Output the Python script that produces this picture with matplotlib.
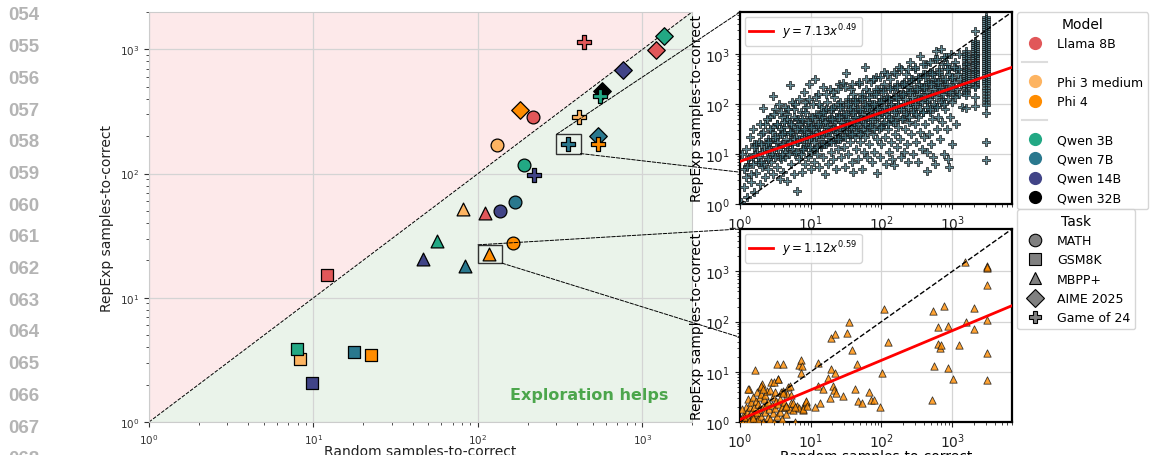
import numpy as np
import matplotlib.pyplot as plt
from matplotlib.lines import Line2D
from matplotlib.patches import Rectangle, ConnectionPatch


# ====================== data ======================
MODELS = ["Llama 8B", "Phi 3 medium", "Phi 4", "Qwen 3B", "Qwen 7B", "Qwen 14B", "Qwen 32B"]
MODEL_COLORS = ["#e15759", "#fdb462", "#ff8c00", "#22a884", "#2a788e", "#414487", "#000000"]
TASKS = ["MATH", "GSM8K", "MBPP+", "AIME 2025", "Game of 24"]
TASK_MARKERS = ["o", "s", "^", "D", "P"]
TASK_SIZES = [85, 85, 85, 80, 100]

nan = np.nan
# samples-to-correct per model, in TASKS order (nan = no point)
random_llama8b = [215, 12, 110, 1200, 440]
repexp_llama8b = [283, 15.3, 48, 985, 1150]
random_phi3m = [131, 8.3, 81, nan, 410]
repexp_phi3m = [170, 3.2, 52, nan, 286]
random_phi4 = [163, 22.5, 117, 180, 535]
repexp_phi4 = [27.5, 3.45, 22.5, 325, 172]
random_qwen3b = [190, 7.9, 56, 1350, 555]
repexp_qwen3b = [117, 3.9, 28.5, 1280, 420]
random_qwen7b = [169, 17.6, 83, 535, 355]
repexp_qwen7b = [59, 3.65, 18, 200, 172]
random_qwen14b = [137, 9.8, 46, 760, 218]
repexp_qwen14b = [50, 2.05, 20.5, 685, 98]
random_qwen32b = [nan, nan, nan, 565, nan]
repexp_qwen32b = [nan, nan, nan, 460, nan]

RANDOM_ALL = [random_llama8b, random_phi3m, random_phi4, random_qwen3b,
              random_qwen7b, random_qwen14b, random_qwen32b]
REPEXP_ALL = [repexp_llama8b, repexp_phi3m, repexp_phi4, repexp_qwen3b,
              repexp_qwen7b, repexp_qwen14b, repexp_qwen32b]

# zoom boxes in the main plot (random range, repexp range)
top_box_random = [300, 420]
top_box_repexp = [145, 207]
bottom_box_random = [100, 140]
bottom_box_repexp = [19, 26.7]

# power-law fits shown in the insets (a, b) for y = a * x^b
top_fit = [7.13, 0.49]
bottom_fit = [1.12, 0.59]

# per-problem points, read as (log10 random, log10 repexp)
# top inset: Qwen 7B on Game of 24
qwen7b_g24_log = [
    (0.02, 0.05), (0.05, 0.35), (0.08, 0.55), (0.10, 0.15), (0.12, 0.80), (0.14, 1.35), (0.15, 0.45),
    (0.18, 0.95), (0.20, 1.20), (0.20, 0.25), (0.22, 0.62), (0.24, 1.05), (0.25, 0.85), (0.27, 1.25),
    (0.28, 0.40), (0.30, 1.40), (0.31, 0.75), (0.33, 1.93), (0.34, 1.10), (0.35, 0.55), (0.36, 1.60),
    (0.38, 0.95), (0.39, 1.30), (0.40, 0.70), (0.42, 1.15), (0.43, 1.75), (0.44, 0.85), (0.45, 1.45),
    (0.46, 0.60), (0.47, 2.17), (0.48, 1.00), (0.50, 1.30), (0.50, 1.90), (0.52, 0.75), (0.53, 1.60),
    (0.54, 1.10), (0.55, 2.00), (0.56, 0.50), (0.57, 1.40), (0.58, 0.90), (0.59, 1.75), (0.60, 1.20),
    (0.61, 0.65), (0.62, 1.55), (0.63, 1.95), (0.64, 0.95), (0.65, 1.30), (0.66, 1.80), (0.67, 0.46),
    (0.68, 1.10), (0.69, 1.65), (0.70, 2.39), (0.71, 1.40), (0.72, 0.80), (0.73, 2.05), (0.74, 1.20),
    (0.75, 1.55), (0.76, 0.60), (0.77, 1.90), (0.78, 1.00), (0.79, 1.35), (0.80, 0.27), (0.80, 1.70),
    (0.82, 1.25), (0.83, 2.10), (0.84, 0.90), (0.85, 1.50), (0.86, 1.85), (0.87, 0.65), (0.88, 1.10),
    (0.89, 1.65), (0.90, 2.25), (0.91, 1.35), (0.92, 0.80), (0.93, 1.95), (0.94, 1.20), (0.95, 1.55),
    (0.96, 0.95), (0.97, 1.75), (0.98, 2.40), (0.99, 1.40), (1.00, 0.70), (1.00, 1.05),
    (1.02, 1.60), (1.03, 2.00), (1.04, 1.25), (1.05, 0.85), (1.06, 2.51), (1.07, 1.45), (1.08, 1.80),
    (1.09, 1.00), (1.10, 2.20), (1.11, 1.55), (1.12, 0.75), (1.13, 1.30), (1.14, 1.95), (1.15, 1.15),
    (1.16, 1.70), (1.17, 2.35), (1.18, 0.95), (1.19, 1.45), (1.20, 1.85), (1.20, 0.60),
    (1.22, 1.20), (1.23, 2.05), (1.24, 1.60), (1.25, 0.80), (1.26, 1.35), (1.27, 2.30), (1.28, 1.75),
    (1.29, 1.05), (1.30, 1.50), (1.31, 1.90), (1.32, 0.90), (1.33, 2.15), (1.34, 1.25), (1.35, 1.65),
    (1.36, 0.70), (1.37, 1.40), (1.38, 2.00), (1.39, 1.10), (1.40, 1.80), (1.40, 2.40),
    (1.42, 1.30), (1.43, 0.95), (1.44, 1.55), (1.45, 2.43), (1.46, 1.95), (1.47, 1.15), (1.48, 1.70),
    (1.49, 0.75), (1.50, 2.63), (1.50, 1.45), (1.52, 2.10), (1.53, 1.00), (1.54, 1.60), (1.55, 1.85),
    (1.56, 1.25), (1.57, 2.30), (1.58, 0.85), (1.59, 1.50), (1.60, 0.64), (1.60, 1.95), (1.60, 2.20),
    (1.62, 1.35), (1.63, 1.75), (1.64, 1.10), (1.65, 2.05), (1.66, 1.55), (1.67, 0.90), (1.68, 2.40),
    (1.69, 1.25), (1.70, 1.85), (1.71, 1.45), (1.72, 2.15), (1.73, 0.70), (1.74, 1.65), (1.75, 1.05),
    (1.76, 2.74), (1.76, 1.95), (1.77, 1.35), (1.78, 2.30), (1.79, 0.95), (1.80, 1.75), (1.80, 1.55),
    (1.82, 2.05), (1.83, 1.20), (1.84, 1.60), (1.85, 2.45), (1.86, 0.85), (1.87, 1.90), (1.88, 1.40),
    (1.89, 2.20), (1.90, 1.05), (1.91, 1.70), (1.92, 2.55), (1.93, 1.30), (1.94, 0.62), (1.95, 1.95),
    (1.96, 1.50), (1.97, 2.30), (1.98, 0.95), (1.99, 1.80), (2.00, 1.20), (2.00, 2.10),
    (2.02, 1.60), (2.03, 2.40), (2.04, 2.64), (2.05, 1.35), (2.06, 1.90), (2.07, 0.80), (2.08, 2.15),
    (2.09, 1.50), (2.10, 1.05), (2.11, 1.75), (2.12, 2.50), (2.13, 1.25), (2.14, 2.00), (2.15, 0.90),
    (2.16, 1.65), (2.17, 2.30), (2.18, 0.79), (2.19, 1.40), (2.20, 1.85), (2.20, 2.60),
    (2.22, 1.15), (2.23, 2.10), (2.24, 1.55), (2.25, 2.75), (2.26, 1.30), (2.27, 1.95), (2.28, 0.95),
    (2.29, 2.40), (2.30, 1.70), (2.31, 2.20), (2.32, 1.05), (2.33, 1.50), (2.34, 2.60), (2.35, 1.85),
    (2.36, 1.20), (2.37, 2.35), (2.38, 0.85), (2.39, 1.65), (2.40, 2.05), (2.40, 2.84),
    (2.42, 1.40), (2.43, 2.50), (2.44, 1.90), (2.45, 1.00), (2.46, 2.25), (2.47, 1.60), (2.48, 2.70),
    (2.49, 1.25), (2.50, 2.00), (2.51, 0.85), (2.52, 1.75), (2.53, 2.40), (2.54, 2.97), (2.55, 1.45),
    (2.56, 2.15), (2.57, 1.10), (2.58, 2.60), (2.59, 1.85), (2.60, 1.35), (2.60, 2.30),
    (2.62, 1.60), (2.63, 2.80), (2.64, 1.05), (2.65, 2.05), (2.65, 0.66), (2.66, 2.45), (2.67, 1.40),
    (2.68, 1.85), (2.69, 2.65), (2.70, 1.20), (2.71, 2.20), (2.72, 1.70), (2.73, 0.95), (2.74, 2.50),
    (2.75, 0.80), (2.75, 1.95), (2.76, 2.90), (2.77, 3.07), (2.78, 1.50), (2.79, 2.35), (2.80, 1.75),
    (2.82, 2.60), (2.83, 1.30), (2.84, 3.11), (2.85, 2.10), (2.86, 1.65), (2.87, 2.80), (2.88, 1.00),
    (2.89, 2.40), (2.90, 1.90), (2.91, 2.95), (2.92, 1.50), (2.93, 2.25), (2.94, 0.90), (2.95, 2.70),
    (2.96, 0.75), (2.97, 1.75), (2.98, 3.00), (2.99, 2.50), (3.00, 1.20),
    (3.02, 2.20), (3.04, 2.85), (3.06, 1.60), (3.08, 2.60), (3.10, 3.00), (3.12, 2.40), (3.14, 1.95),
    # dense core around the fit
    (0.05, 0.70), (0.03, 1.00), (0.15, 0.60), (0.13, 0.95), (0.26, 0.95), (0.23, 1.20), (0.34, 0.80),
    (0.37, 1.20), (0.33, 1.45), (0.45, 1.00), (0.43, 1.25), (0.47, 1.55), (0.56, 0.95), (0.53, 1.25),
    (0.58, 1.50), (0.64, 1.05), (0.67, 1.20), (0.62, 1.45), (0.66, 1.70), (0.74, 1.10), (0.77, 1.30),
    (0.72, 1.45), (0.76, 1.75), (0.86, 1.00), (0.83, 1.30), (0.87, 1.45), (0.84, 1.60), (0.94, 1.15),
    (0.97, 1.30), (0.93, 1.45), (0.96, 1.65), (0.92, 1.85), (1.04, 1.10), (1.07, 1.35), (1.03, 1.50),
    (1.06, 1.70), (1.14, 1.20), (1.17, 1.40), (1.13, 1.60), (1.16, 1.75), (1.12, 2.00), (1.24, 1.25),
    (1.27, 1.45), (1.23, 1.55), (1.26, 1.70), (1.22, 1.90), (1.34, 1.30), (1.37, 1.45), (1.33, 1.55),
    (1.36, 1.75), (1.32, 1.95), (1.44, 1.35), (1.47, 1.50), (1.43, 1.65), (1.46, 1.80), (1.42, 2.05),
    (1.54, 1.40), (1.57, 1.55), (1.53, 1.70), (1.56, 1.90), (1.52, 2.05), (1.64, 1.45), (1.67, 1.60),
    (1.63, 1.75), (1.66, 1.90), (1.62, 2.10), (1.74, 1.50), (1.77, 1.60), (1.73, 1.80), (1.76, 2.00),
    (1.72, 2.20), (1.84, 1.55), (1.87, 1.70), (1.83, 1.85), (1.86, 2.00), (1.82, 2.25), (1.94, 1.60),
    (1.97, 1.75), (1.93, 1.90), (1.96, 2.05), (1.92, 2.30), (2.04, 1.65), (2.07, 1.80), (2.03, 1.95),
    (2.06, 2.10), (2.02, 2.30), (2.14, 1.70), (2.17, 1.85), (2.13, 2.00), (2.16, 2.15), (2.12, 2.35),
    (2.24, 1.75), (2.27, 1.90), (2.23, 2.00), (2.26, 2.20), (2.22, 2.40), (2.34, 1.80), (2.37, 1.95),
    (2.33, 2.10), (2.36, 2.25), (2.32, 2.45), (2.44, 1.85), (2.47, 2.00), (2.43, 2.15), (2.46, 2.30),
    (2.42, 2.50), (2.54, 1.90), (2.57, 2.05), (2.53, 2.20), (2.56, 2.35), (2.52, 2.55), (2.64, 1.95),
    (2.67, 2.10), (2.63, 2.25), (2.66, 2.40), (2.62, 2.60), (2.74, 2.00), (2.77, 2.15), (2.73, 2.30),
    (2.76, 2.45), (2.72, 2.65), (2.84, 2.05), (2.87, 2.20), (2.83, 2.35), (2.86, 2.50), (2.82, 2.70),
    (2.94, 2.10), (2.97, 2.25), (2.93, 2.40), (2.96, 2.60), (2.92, 2.80), (3.04, 2.15), (3.07, 2.30),
    (3.03, 2.45), (3.06, 2.70),
    (0.10, 0.75), (0.11, 0.90), (0.09, 1.10), (0.19, 0.80), (0.21, 1.00), (0.20, 1.15), (0.18, 1.50),
    (0.29, 0.85), (0.31, 1.05), (0.30, 1.20), (0.28, 1.60), (0.39, 0.90), (0.41, 1.10), (0.40, 1.25),
    (0.38, 1.70), (0.42, 1.50), (0.49, 0.95), (0.51, 1.15), (0.50, 1.35), (0.52, 1.60), (0.48, 1.80),
    (0.59, 1.00), (0.61, 1.20), (0.60, 1.40), (0.62, 1.65), (0.58, 1.85), (0.69, 1.00), (0.71, 1.25),
    (0.70, 1.45), (0.72, 1.60), (0.68, 1.90), (0.79, 1.05), (0.81, 1.25), (0.80, 1.50), (0.82, 1.70),
    (0.78, 2.00), (0.89, 1.10), (0.91, 1.30), (0.90, 1.50), (0.88, 1.70), (0.92, 2.05), (0.99, 1.15),
    (1.01, 1.35), (1.00, 1.55), (1.02, 1.75), (0.98, 2.10), (1.09, 1.15), (1.11, 1.40), (1.10, 1.60),
    (1.12, 1.80), (1.08, 2.15), (1.19, 1.20), (1.21, 1.45), (1.20, 1.65), (1.18, 1.85), (1.22, 2.20),
    (1.29, 1.25), (1.31, 1.50), (1.30, 1.70), (1.28, 1.90), (1.32, 2.25), (1.39, 1.30), (1.41, 1.55),
    (1.40, 1.75), (1.42, 1.95), (1.38, 2.30), (1.49, 1.35), (1.51, 1.60), (1.50, 1.80), (1.52, 2.00),
    (1.48, 2.35), (1.59, 1.40), (1.61, 1.65), (1.60, 1.85), (1.62, 2.05), (1.58, 2.40), (1.69, 1.40),
    (1.71, 1.70), (1.70, 1.90), (1.72, 2.10), (1.68, 2.45), (1.79, 1.45), (1.81, 1.75), (1.80, 1.95),
    (1.82, 2.15), (1.78, 2.50), (1.89, 1.50), (1.91, 1.80), (1.90, 2.00), (1.92, 2.20), (1.88, 2.50),
    (1.99, 1.55), (2.01, 1.85), (2.00, 2.05), (2.02, 2.25), (1.98, 2.55), (2.09, 1.60), (2.11, 1.90),
    (2.10, 2.10), (2.12, 2.30), (2.08, 2.60), (2.19, 1.65), (2.21, 1.95), (2.20, 2.15), (2.22, 2.35),
    (2.18, 2.65), (2.29, 1.70), (2.31, 2.00), (2.30, 2.20), (2.32, 2.40), (2.28, 2.70), (2.39, 1.75),
    (2.41, 2.05), (2.40, 2.25), (2.42, 2.45), (2.38, 2.70), (2.49, 1.80), (2.51, 2.10), (2.50, 2.30),
    (2.52, 2.50), (2.48, 2.75), (2.59, 1.85), (2.61, 2.15), (2.60, 2.35), (2.62, 2.55), (2.58, 2.80),
    (2.69, 1.90), (2.71, 2.20), (2.70, 2.40), (2.72, 2.60), (2.68, 2.85), (2.79, 1.95), (2.81, 2.25),
    (2.80, 2.45), (2.82, 2.65), (2.78, 2.90), (2.89, 2.00), (2.91, 2.30), (2.90, 2.50), (2.92, 2.70),
    (2.88, 2.95), (2.99, 2.05), (3.01, 2.35), (3.00, 2.55), (3.02, 2.75), (3.09, 2.20), (3.11, 2.50),
    (3.10, 2.70),
    # budget columns
    (3.20, 3.07), (3.20, 3.01), (3.20, 2.97), (3.20, 2.92), (3.20, 2.88), (3.20, 2.83), (3.20, 2.80),
    (3.20, 2.76), (3.20, 2.71), (3.20, 2.68), (3.20, 2.64), (3.20, 2.61), (3.20, 2.57), (3.20, 2.52),
    (3.20, 2.49), (3.20, 2.45), (3.20, 2.41), (3.20, 2.37), (3.20, 2.33), (3.20, 2.27), (3.20, 2.24),
    (3.20, 2.18), (3.20, 1.93),
    (3.32, 3.47), (3.32, 3.27), (3.32, 3.23), (3.32, 3.18), (3.32, 3.15), (3.32, 3.10), (3.32, 3.06),
    (3.32, 3.03), (3.32, 2.99), (3.32, 2.96), (3.32, 2.92), (3.32, 2.89), (3.32, 2.85), (3.32, 2.82),
    (3.32, 2.78), (3.32, 2.75), (3.32, 2.71), (3.32, 2.67), (3.32, 2.64), (3.32, 2.60), (3.32, 2.57),
    (3.32, 2.53), (3.32, 2.49), (3.32, 2.45), (3.32, 2.41), (3.32, 2.37), (3.32, 2.34), (3.32, 2.15),
    (3.32, 1.96),
    (3.48, 3.74), (3.48, 3.70), (3.48, 3.67), (3.48, 3.62), (3.48, 3.58), (3.48, 3.55), (3.48, 3.50),
    (3.48, 3.47), (3.48, 3.42), (3.48, 3.39), (3.48, 3.34), (3.48, 3.31), (3.48, 3.26), (3.48, 3.23),
    (3.48, 3.18), (3.48, 3.15), (3.48, 3.10), (3.48, 3.07), (3.48, 3.02), (3.48, 2.98), (3.48, 2.95),
    (3.48, 2.90), (3.48, 2.86), (3.48, 2.83), (3.48, 2.78), (3.48, 2.75), (3.48, 2.70), (3.48, 2.66),
    (3.48, 2.63), (3.48, 2.58), (3.48, 2.55), (3.48, 2.50), (3.48, 2.46), (3.48, 2.43), (3.48, 2.38),
    (3.48, 2.33), (3.48, 2.29), (3.48, 2.23), (3.48, 2.17), (3.48, 2.10), (3.48, 2.04), (3.48, 1.98),
    (3.48, 1.83), (3.48, 1.24), (3.48, 0.89),
]

# bottom inset: Phi 4 on MBPP+
phi4_mbpp_log = [
    (0.00, 0.00), (0.02, 0.06), (0.04, 0.00), (0.05, 0.15), (0.07, 0.09), (0.08, 0.30), (0.09, 0.00),
    (0.10, 0.20), (0.11, 0.45), (0.12, 0.10), (0.13, 0.66), (0.14, 0.30), (0.15, 0.05), (0.16, 0.39),
    (0.17, 0.22), (0.18, 0.50), (0.19, 0.12), (0.20, 0.30), (0.21, 0.00), (0.22, 0.42), (0.23, 0.15),
    (0.24, 0.60), (0.25, 0.36), (0.26, 0.05), (0.27, 0.25), (0.28, 0.50), (0.29, 0.70), (0.30, 0.12),
    (0.30, 0.56), (0.31, 0.75), (0.32, 0.30), (0.33, 0.00), (0.34, 0.45), (0.35, 0.53), (0.36, 0.20),
    (0.37, 0.33), (0.38, 0.62), (0.39, 0.10), (0.40, 0.40), (0.41, 0.25), (0.42, 0.63), (0.43, 0.05),
    (0.44, 0.79), (0.45, 0.33), (0.46, 0.50), (0.47, 0.18), (0.48, 0.00), (0.49, 0.59), (0.50, 0.28),
    (0.51, 0.42), (0.52, 0.12), (0.54, 0.86), (0.54, 0.36), (0.56, 0.46), (0.57, 0.20), (0.58, 0.59),
    (0.59, 0.30), (0.60, 0.05), (0.62, 0.40), (0.63, 0.29), (0.65, 0.15), (0.66, 0.55), (0.68, 0.69),
    (0.70, 0.25), (0.72, 0.38), (0.75, 0.23), (0.78, 0.00), (0.81, 0.31), (0.84, 0.27), (0.89, 0.23),
    (0.91, 0.33), (0.93, 0.39), (0.06, 0.10), (0.13, 0.02), (0.18, 0.08), (0.24, 0.20), (0.03, 0.25),
    (0.216, 1.03), (0.113, 0.658), (0.301, 0.724), (0.325, 0.658), (0.48, 0.791), (0.536, 0.857),
    (0.527, 1.163), (0.607, 1.156), (0.607, 0.611), (0.607, 0.578), (0.654, 0.312), (0.701, 0.711),
    (0.725, 0.545), (0.748, 0.379), (0.781, 0.292), (0.84, 1.14), (0.866, 1.229), (0.88, 1.11),
    (0.866, 0.977), (0.889, 0.259), (0.936, 0.412), (0.951, 0.312), (1.054, 0.299), (1.101, 1.176),
    (1.101, 0.711), (1.125, 0.379), (1.172, 0.658), (1.242, 0.877), (1.266, 0.478), (1.28, 1.056),
    (1.289, 1.674), (1.313, 0.711), (1.322, 0.645), (1.336, 0.977), (1.35, 1.761), (1.36, 0.578),
    (1.454, 0.525), (1.51, 1.774), (1.539, 1.987), (1.581, 1.429), (1.619, 0.664), (1.652, 1.163),
    (1.675, 0.412), (1.722, 0.379), (1.821, 0.598), (1.845, 0.445), (1.892, 0.445), (1.986, 0.299),
    (2.005, 0.977), (2.042, 2.252), (2.089, 1.595),
    (2.715, 0.445), (2.725, 2.206), (2.748, 1.11), (2.795, 1.894), (2.795, 1.561), (2.833, 1.475),
    (2.842, 1.541), (2.889, 2.306), (2.946, 1.907), (2.946, 1.076), (3.016, 0.864), (3.092, 1.541),
    (3.186, 3.183), (3.195, 1.993), (3.313, 2.272), (3.313, 1.86), (3.492, 3.103), (3.492, 3.07),
    (3.492, 3.09), (3.492, 2.738), (3.492, 2.027), (3.492, 1.375), (3.492, 0.844),
]

LINE_NUMBERS = ["054", "055", "056", "057", "058", "059", "060", "061",
                "062", "063", "064", "065", "066", "067", "068"]

# ====================== layout ======================
FIG_W, FIG_H = 1150, 456
MAIN_LIM = 2000
INSET_LIM = 7000


def px_rect(left, top, right, bottom):
    """pixel box -> figure fraction rect"""
    return [left / FIG_W, 1 - bottom / FIG_H, (right - left) / FIG_W, (bottom - top) / FIG_H]


plt.rcParams['font.family'] = ['DejaVu Sans']
plt.rcParams['axes.unicode_minus'] = False

fig = plt.figure(figsize=(FIG_W / 100, FIG_H / 100), dpi=100)

# ====================== main plot ======================
ax = fig.add_axes(px_rect(149, 13, 692, 423))
ax.set_xscale('log')
ax.set_yscale('log')
ax.set_xlim(1, MAIN_LIM)
ax.set_ylim(1, MAIN_LIM)
ax.fill([1, MAIN_LIM, 1], [1, MAIN_LIM, MAIN_LIM], color='#fde9ea', lw=0, zorder=0)
ax.fill([1, MAIN_LIM, MAIN_LIM], [1, MAIN_LIM, 1], color='#eaf3ea', lw=0, zorder=0)
ax.plot([1, MAIN_LIM], [1, MAIN_LIM], color='black', ls='--', lw=0.7, zorder=1)
ax.grid(True, which='major', color='#d4d4d4', lw=0.9, zorder=0.5)
ax.set_axisbelow(True)

for ti, task in enumerate(TASKS):
    for mi, model in enumerate(MODELS):
        x = RANDOM_ALL[mi][ti]
        y = REPEXP_ALL[mi][ti]
        if np.isnan(x):
            continue
        ax.scatter([x], [y], marker=TASK_MARKERS[ti], s=TASK_SIZES[ti], color=MODEL_COLORS[mi],
                   edgecolor='black', linewidth=0.9, zorder=3)

for sp in ax.spines.values():
    sp.set_color('#cccccc')
ax.tick_params(which='both', direction='out', colors='#333333', labelsize=7.5)
ax.tick_params(which='major', length=3.5)
ax.tick_params(which='minor', length=2)
ax.set_xlabel('Random samples-to-correct', fontsize=10, color='#222222', labelpad=-1)
ax.set_ylabel('RepExp samples-to-correct', fontsize=10, color='#222222')
ax.text(0.81, 0.068, 'Exploration helps', transform=ax.transAxes, ha='center', va='center',
        fontsize=11.5, fontweight='bold', color='#4ca64c')


# ====================== insets ======================
def draw_inset(rect, pts_log, marker, color, size, fit, xlabel):
    axi = fig.add_axes(rect)
    axi.set_xscale('log')
    axi.set_yscale('log')
    pts = 10 ** np.array(pts_log)
    axi.scatter(pts[:, 0], pts[:, 1], marker=marker, s=size, facecolor=color,
                edgecolor='#111111', linewidth=0.6, alpha=0.8, zorder=3)
    axi.plot([1, INSET_LIM], [1, INSET_LIM], color='black', ls='--', lw=1, zorder=4)
    xs = np.array([1, INSET_LIM])
    a, b = fit
    axi.plot(xs, a * xs ** b, color='red', lw=2, zorder=5,
             label=rf'$y = {a:.2f}x^{{{b:.2f}}}$')
    axi.set_xlim(1, INSET_LIM)
    axi.set_ylim(1, INSET_LIM)
    axi.grid(True, which='major', color='#d4d4d4', lw=0.9)
    axi.set_axisbelow(True)
    for sp in axi.spines.values():
        sp.set_color('black')
        sp.set_linewidth(1.6)
    axi.tick_params(which='both', direction='out', labelsize=10, colors='#222222')
    axi.tick_params(which='major', length=3.5)
    axi.tick_params(which='minor', length=2)
    axi.set_ylabel('RepExp samples-to-correct', fontsize=10, labelpad=1)
    if xlabel:
        axi.set_xlabel('Random samples-to-correct', fontsize=10, labelpad=-1)
    axi.legend(loc='upper left', fontsize=8.5, handlelength=2, borderaxespad=0.4)
    return axi


ax_top = draw_inset(px_rect(740, 13, 1012, 205), qwen7b_g24_log, 'P', '#3e6f7c', 28,
                    top_fit, False)
ax_bot = draw_inset(px_rect(740, 230, 1012, 423), phi4_mbpp_log, '^', MODEL_COLORS[2], 28,
                    bottom_fit, True)

# zoom boxes + connectors (drawn on the main axes, hidden under the insets)
for box_x, box_y, axi in [(top_box_random, top_box_repexp, ax_top),
                          (bottom_box_random, bottom_box_repexp, ax_bot)]:
    ax.add_patch(Rectangle((box_x[0], box_y[0]), box_x[1] - box_x[0], box_y[1] - box_y[0],
                           fill=False, edgecolor='#333333', lw=1, zorder=4))
    for xy_a, xy_b in [((box_x[0], box_y[1]), (0, 1)), ((box_x[1], box_y[0]), (1, 0))]:
        con = ConnectionPatch(xyA=xy_a, coordsA=ax.transData, xyB=xy_b, coordsB=axi.transAxes,
                              color='black', lw=0.7, ls='--', clip_on=False, zorder=4)
        ax.add_artist(con)

# ====================== legends ======================
sep = Line2D([], [], color='#dddddd', lw=1.5)
model_handles = [Line2D([], [], marker='o', ls='', markersize=9.5, color=c, markeredgewidth=0)
                 for c in MODEL_COLORS]
handles = [model_handles[0], sep, model_handles[1], model_handles[2], sep] + model_handles[3:]
labels = [MODELS[0], '', MODELS[1], MODELS[2], ''] + MODELS[3:]
fig.legend(handles, labels, loc='upper left', bbox_to_anchor=(1017 / FIG_W, 1 - 13 / FIG_H),
           borderaxespad=0, title='Model', fontsize=9, title_fontsize=10)

task_handles = [Line2D([], [], marker=m, ls='', markersize=9, color='#808080',
                       markeredgecolor='black', markeredgewidth=0.8) for m in TASK_MARKERS]
fig.legend(task_handles, TASKS, loc='upper left', bbox_to_anchor=(1017 / FIG_W, 1 - 210 / FIG_H),
           borderaxespad=0, title='Task', fontsize=9, title_fontsize=10)

# ====================== line numbers ======================
for i, num in enumerate(LINE_NUMBERS):
    fig.text(8 / FIG_W, 1 - (16 + 31.7 * i) / FIG_H, num, ha='left', va='center',
             fontsize=13.5, fontweight='bold', color='#b4b4b4', family='Liberation Sans')

fig.savefig('out.png', dpi=100)
